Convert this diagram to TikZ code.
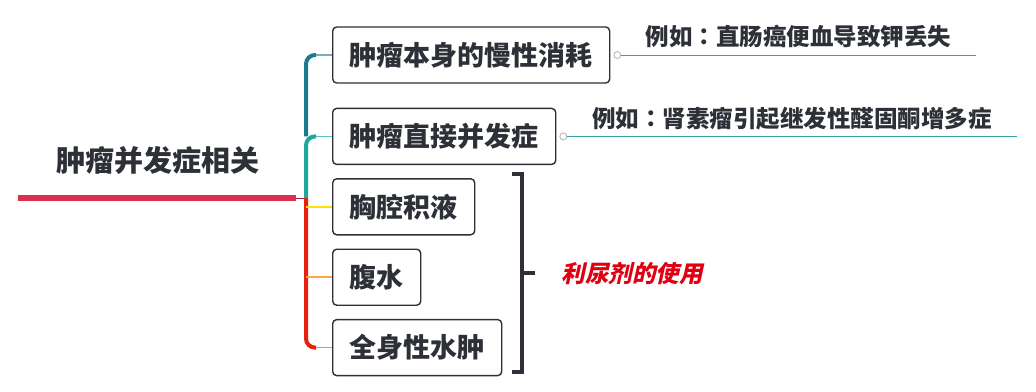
\documentclass[tikz,border=0pt]{standalone}
\usepackage{fontspec}
\setmainfont{Noto Sans CJK SC}[BoldFont={Noto Sans CJK SC Black}]
\newfontfamily\slantcjk{Noto Sans CJK SC}[BoldFont={Noto Sans CJK SC Black}, FakeSlant=0.22]
\newfontfamily\punctcjk{Noto Sans CJK TC}[BoldFont={Noto Sans CJK TC Black}]
\usetikzlibrary{positioning}
\definecolor{inkgray}{HTML}{2E3038}
\definecolor{rootred}{HTML}{DA3050}
\definecolor{tealdk}{HTML}{1B7A8E}
\definecolor{tealmd}{HTML}{1CA99B}
\definecolor{spinered}{HTML}{E8200E}
\definecolor{notered}{HTML}{E00012}
\definecolor{noteteal}{HTML}{3AA3A3}
\newcommand{\fwcolon}{{\punctcjk ：}}

\begin{document}
\begin{tikzpicture}[x=1pt, y=-1pt,
  box/.style={draw=inkgray, rounded corners=4pt, line width=1.4pt, minimum height=56pt,
              inner xsep=17pt, inner ysep=0pt, text=inkgray,
              font=\fontsize{27}{32}\selectfont\bfseries},
  note/.style={anchor=south west, inner sep=0pt, minimum height=36pt, text=inkgray,
               font=\fontsize{23.5}{28}\selectfont\bfseries},
  knob/.style={circle, draw=gray!60, fill=white, line width=0.8pt, minimum size=7pt, inner sep=0pt},
  spine/.style={line width=4pt, rounded corners=9pt},
  twig/.style={line width=1.6pt},
  brk/.style={draw=inkgray, line width=3.5pt},
  node distance=13pt
]
\useasboundingbox[fill=white] (0,0) rectangle (1036,391);

\node[text=inkgray, font=\fontsize{29}{34}\selectfont\bfseries] (root) at (158,160) {肿瘤并发症相关};
\coordinate (tail) at (18,198);
\coordinate (hub) at (306,198);

\node[box, anchor=west] (b1) at (332,55) {肿瘤本身的慢性消耗};
\node[box, below right=24pt and 0pt of b1.south west] (b2) {肿瘤直接并发症};
\node[box, below right=13pt and 0pt of b2.south west] (b3) {胸腔积液};
\node[box, below right=13pt and 0pt of b3.south west] (b4) {腹水};
\node[box, below right=13pt and 0pt of b4.south west] (b5) {全身性水肿};

% trunk and branches
\draw[line width=6pt, rootred] (tail) -- ([xshift=-10pt]hub);
\draw[line width=1pt, rootred!70!black] ([xshift=-10pt]hub) -- (hub);
\draw[spine, tealdk] (hub |- b2.west) |- ([xshift=-16pt]b1.west);
\draw[spine, tealmd] (hub) |- ([xshift=-16pt]b2.west);
\draw[spine, spinered] (hub) |- ([xshift=-16pt]b5.west);
\draw[twig, tealdk!60] ([xshift=-16pt]b1.west) -- (b1.west);
\draw[twig, tealmd!70] ([xshift=-16pt]b2.west) -- (b2.west);
\draw[twig, yellow!85!orange] (hub |- b3.west) -- (b3.west);
\draw[twig, orange!70] (hub |- b4.west) -- (b4.west);
\draw[twig, red!50] ([xshift=-16pt]b5.west) -- (b5.west);

% examples
\node[knob, right=3pt of b1.east] (k1) {};
\node[note, minimum width=354pt] (e1) at (k1.east) {例如\fwcolon 直肠癌便血导致钾丢失};
\draw[noteteal, line width=0.9pt] (k1) -- (e1.south east);
\node[knob, right=3pt of b2.east] (k2) {};
\node[note, minimum width=449pt] (e2) at (k2.east) {例如\fwcolon 肾素瘤引起继发性醛固酮增多症};
\draw[noteteal, line width=0.9pt] (k2) -- (e2.south east);

% bracket
\coordinate (brtop) at (512,174);
\coordinate (brbot) at (512,372);
\coordinate (brmid) at (522,273);
\draw[brk] (brtop) -- ++(10,0) |- (brbot);
\draw[brk] (brmid) -- ++(13,0);
\node[text=notered, font=\fontsize{23.5}{28}\selectfont\slantcjk\bfseries] (diur) at (632,274) {利尿剂的使用};
\end{tikzpicture}
\end{document}
